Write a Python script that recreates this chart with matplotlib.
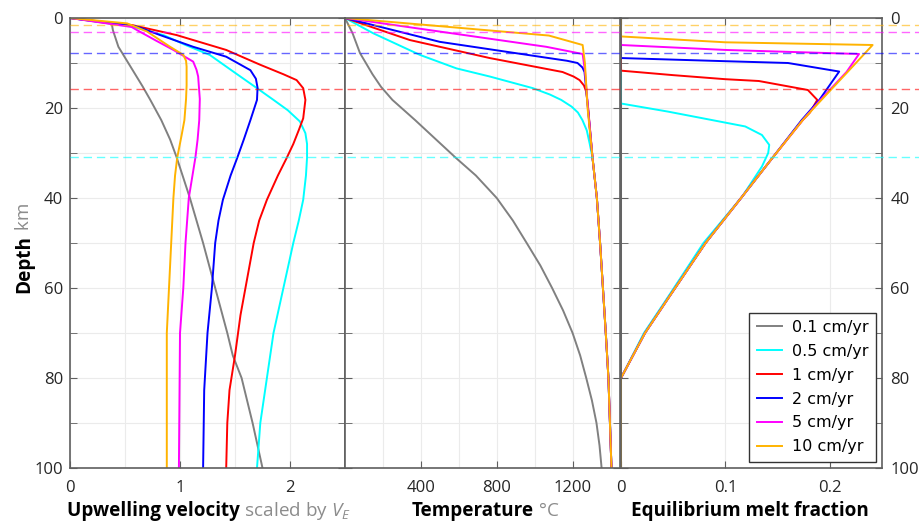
import matplotlib
matplotlib.use('Agg')
import matplotlib.pyplot as plt
import matplotlib.transforms as mtransforms
from matplotlib.lines import Line2D

plt.rcParams['font.family'] = ['Open Sans', 'DejaVu Sans']
plt.rcParams['mathtext.fontset'] = 'custom'
plt.rcParams['mathtext.it'] = 'Open Sans:italic'
plt.rcParams['mathtext.rm'] = 'Open Sans'

# series names / colours
rates = ['0.1 cm/yr', '0.5 cm/yr', '1 cm/yr', '2 cm/yr', '5 cm/yr', '10 cm/yr']
colors = ['#808080', '#00ffff', '#ff0000', '#0000ff', '#ff00ff', '#ffb300']

# upwelling velocity (scaled by V_E) against depth (km)
vel_d_01 = [0, 1.3, 2.7, 6.4, 10.8, 15.2, 18.2, 22.7, 27, 31, 40, 50, 60, 70, 75, 80, 90, 100]
vel_v_01 = [0, 0.38, 0.39, 0.44, 0.55, 0.66, 0.73, 0.83, 0.91, 0.97, 1.09, 1.21, 1.32, 1.43, 1.48, 1.56, 1.66, 1.75]
vel_d_05 = [0, 1.5, 3.8, 6, 8.2, 12, 15.6, 18.2, 20.5, 23, 25.6, 28, 31, 35, 40.4, 45, 50, 60, 70, 80, 90, 100]
vel_v_05 = [0, 0.5, 0.85, 1.05, 1.27, 1.49, 1.70, 1.85, 1.98, 2.09, 2.14, 2.155, 2.155, 2.145, 2.12, 2.08, 2.03, 1.94, 1.85, 1.79, 1.73, 1.70]
vel_d_1 = [0, 1.6, 3.8, 7.1, 10.4, 12.5, 13.8, 15.6, 18.2, 22.3, 24.9, 28, 31.1, 35, 40.4, 45, 50, 58, 66, 75, 82.7, 90, 100]
vel_v_1 = [0, 0.57, 0.97, 1.42, 1.73, 1.94, 2.06, 2.12, 2.14, 2.12, 2.08, 2.03, 1.97, 1.89, 1.79, 1.72, 1.67, 1.61, 1.55, 1.50, 1.45, 1.43, 1.42]
vel_d_2 = [0, 1.9, 3.8, 6.4, 8.6, 11.6, 13.5, 15.5, 18.2, 22.7, 27, 31.1, 35, 40.4, 45, 50, 60, 70, 82.7, 100]
vel_v_2 = [0, 0.61, 0.82, 1.12, 1.42, 1.64, 1.69, 1.705, 1.70, 1.64, 1.58, 1.52, 1.46, 1.39, 1.35, 1.32, 1.29, 1.25, 1.22, 1.21]
vel_d_5 = [0, 2, 2.7, 5, 7.1, 9.7, 11.5, 13, 18, 22.7, 27, 31, 40, 50, 60, 70, 100]
vel_v_5 = [0, 0.56, 0.61, 0.78, 0.94, 1.12, 1.15, 1.165, 1.18, 1.175, 1.16, 1.14, 1.08, 1.05, 1.03, 1.00, 0.99]
vel_d_10 = [0, 1.2, 3, 6.4, 8.2, 9.5, 10.8, 15, 18, 22.7, 26, 31, 35, 40, 50, 60, 70, 100]
vel_v_10 = [0, 0.52, 0.70, 0.91, 1.03, 1.055, 1.06, 1.06, 1.055, 1.04, 1.015, 0.975, 0.955, 0.94, 0.92, 0.90, 0.88, 0.88]

# temperature (deg C) against depth (km)
tem_d_01 = [0, 3.4, 7.8, 10, 12.5, 15.3, 18.2, 22.7, 27, 31.1, 35, 40, 45, 50, 55, 60, 65, 70, 75, 80, 85, 90, 95, 100]
tem_t_01 = [0, 40, 79, 110, 145, 190, 250, 370, 480, 585, 690, 800, 885, 958, 1030, 1092, 1150, 1200, 1240, 1272, 1302, 1326, 1342, 1353]
tem_d_05 = [0, 3.4, 8.2, 11.2, 13, 15.6, 17, 18.2, 19.7, 21, 22.7, 25, 27.9, 31, 40, 50, 60, 70, 80, 90, 100]
tem_t_05 = [0, 149, 395, 588, 763, 991, 1080, 1140, 1195, 1228, 1252, 1275, 1290, 1305, 1328, 1345, 1360, 1375, 1389, 1397, 1405]
tem_d_1 = [0, 4.9, 8.9, 12, 13, 13.8, 15, 16.4, 20, 31, 40, 50, 60, 70, 80, 90, 100]
tem_t_1 = [0, 342, 763, 1147, 1205, 1237, 1260, 1272, 1282, 1305, 1328, 1345, 1360, 1375, 1389, 1397, 1405]
tem_d_2 = [0, 5.3, 8.6, 9.5, 10, 11, 12, 20, 31, 40, 50, 60, 70, 80, 90, 100]
tem_t_2 = [0, 500, 1026, 1170, 1226, 1252, 1263, 1281, 1305, 1328, 1345, 1360, 1375, 1389, 1397, 1405]
tem_d_5 = [0, 6.4, 8, 12, 20, 31, 40, 50, 60, 70, 80, 90, 100]
tem_t_5 = [0, 1061, 1253, 1266, 1281, 1305, 1328, 1345, 1360, 1375, 1389, 1397, 1405]
tem_d_10 = [0, 3.9, 6, 10, 20, 31, 40, 50, 60, 70, 80, 90, 100]
tem_t_10 = [0, 1075, 1253, 1265, 1279, 1305, 1328, 1345, 1360, 1375, 1389, 1397, 1405]

# equilibrium melt fraction against depth (km)
mel_d_01 = [0, 100]
mel_f_01 = [0, 0]
mel_d_05 = [0, 19, 20.8, 24.1, 26, 28.2, 30, 33, 39.7, 50, 62.7, 70, 80, 100]
mel_f_05 = [0, 0, 0.045, 0.119, 0.135, 0.142, 0.141, 0.135, 0.116, 0.079, 0.043, 0.022, 0, 0]
mel_d_1 = [0, 11.7, 12.7, 13.6, 14, 16, 18.2, 21, 22.7, 31.1, 40, 50, 62.7, 70, 80, 100]
mel_f_1 = [0, 0, 0.05, 0.10, 0.132, 0.179, 0.188, 0.181, 0.174, 0.145, 0.115, 0.081, 0.044, 0.023, 0, 0]
mel_d_2 = [0, 8.9, 9.6, 10, 11.9, 18.2, 22.7, 31.1, 40, 50, 62.7, 70, 80, 100]
mel_f_2 = [0, 0, 0.10, 0.16, 0.209, 0.190, 0.173, 0.145, 0.115, 0.081, 0.044, 0.023, 0, 0]
mel_d_5 = [0, 6, 7.1, 8, 12, 18.2, 22.7, 31.1, 40, 50, 62.7, 70, 80, 100]
mel_f_5 = [0, 0, 0.10, 0.228, 0.216, 0.191, 0.174, 0.145, 0.115, 0.081, 0.044, 0.023, 0, 0]
mel_d_10 = [0, 4.1, 5.4, 6, 8, 12, 18.2, 22.7, 31.1, 40, 50, 62.7, 70, 80, 100]
mel_f_10 = [0, 0, 0.10, 0.241, 0.233, 0.217, 0.192, 0.174, 0.145, 0.115, 0.081, 0.044, 0.023, 0, 0]

# dashed reference depths (km) for 0.5 ... 10 cm/yr
ref_depth = [30.9, 15.85, 7.85, 3.1, 1.5]
ref_colors = colors[1:]

vel = [(vel_v_01, vel_d_01), (vel_v_05, vel_d_05), (vel_v_1, vel_d_1),
       (vel_v_2, vel_d_2), (vel_v_5, vel_d_5), (vel_v_10, vel_d_10)]
tem = [(tem_t_01, tem_d_01), (tem_t_05, tem_d_05), (tem_t_1, tem_d_1),
       (tem_t_2, tem_d_2), (tem_t_5, tem_d_5), (tem_t_10, tem_d_10)]
mel = [(mel_f_01, mel_d_01), (mel_f_05, mel_d_05), (mel_f_1, mel_d_1),
       (mel_f_2, mel_d_2), (mel_f_5, mel_d_5), (mel_f_10, mel_d_10)]

W, H = 920, 522
fig = plt.figure(figsize=(W / 100, H / 100), dpi=100)
bot, hgt = 54 / H, 450 / H
ax1 = fig.add_axes([70 / W, bot, 275 / W, hgt])
ax2 = fig.add_axes([345 / W, bot, 275 / W, hgt])
ax3 = fig.add_axes([621 / W, bot, 261 / W, hgt])

for ax, data in ((ax1, vel), (ax2, tem), (ax3, mel)):
    for (x, d), c, lab in zip(data, colors, rates):
        ax.plot(x, d, color=c, lw=1.4, label=lab)
    ax.set_ylim(100, 0)
    ax.set_yticks([0, 20, 40, 60, 80, 100])
    ax.set_yticks([10, 30, 50, 70, 90], minor=True)
    ax.grid(True, which='both', color='#ebebeb', lw=0.8)
    ax.set_axisbelow(True)
    for s in ax.spines.values():
        s.set_color('#5f5f5f')
        s.set_linewidth(1.2)
    ax.tick_params(which='both', direction='in', top=True, right=True,
                   color='#5f5f5f', labelsize=12, labelcolor='#262626')
    ax.tick_params(axis='x', which='major', length=5, pad=9)
    ax.tick_params(axis='x', which='minor', length=0)
    ax.tick_params(axis='y', which='both', length=5)

ax1.set_xlim(0, 2.5)
ax1.set_xticks([0, 1, 2])
ax1.set_xticks([0.5, 1.5, 2.5], minor=True)
ax1.tick_params(axis='y', labelleft=True, pad=5)

ax2.set_xlim(0, 1450)
ax2.set_xticks([400, 800, 1200])
ax2.set_xticks([200, 600, 1000, 1400], minor=True)
ax2.tick_params(axis='y', labelleft=False)

ax3.set_xlim(0, 0.25)
ax3.set_xticks([0, 0.1, 0.2])
ax3.set_xticklabels(['0', '0.1', '0.2'])
ax3.tick_params(axis='y', labelleft=False, labelright=True, pad=6)

leg = ax3.legend(loc='lower right', prop={'family': 'DejaVu Sans', 'size': 11.5},
                 fancybox=False, framealpha=1, edgecolor='#333333',
                 handlelength=1.6, handletextpad=0.6, labelspacing=0.56,
                 borderaxespad=0.4, borderpad=0.45)
leg.get_frame().set_linewidth(1.0)

# dashed depth markers running across the whole figure
tr = mtransforms.blended_transform_factory(fig.transFigure, ax1.transData)
for d, c in zip(ref_depth, ref_colors):
    fig.add_artist(Line2D([70 / W, 1.0], [d, d], transform=tr, color=c,
                          lw=1.0, alpha=0.6, dashes=(6, 3.5)))

# two-tone axis labels (bold name + grey unit)
renderer = fig.canvas.get_renderer()


def two_tone(cx, cy, bold, light, rot=0):
    kw = dict(fontsize=13.6, rotation=rot, rotation_mode='anchor',
              ha='left', va='baseline')
    t1 = fig.text(0, 0, bold, fontweight='bold', color='black', **kw)
    t2 = fig.text(0, 0, light, color='#8c8c8c', **kw)
    e1 = t1.get_window_extent(renderer)
    e2 = t2.get_window_extent(renderer)
    if rot == 0:
        x0 = cx - (e1.width + e2.width) / 2
        t1.set_position((x0 / W, cy / H))
        t2.set_position(((x0 + e1.width) / W, cy / H))
    else:
        y0 = cy - (e1.height + e2.height) / 2
        t1.set_position((cx / W, y0 / H))
        t2.set_position((cx / W, (y0 + e1.height) / H))


two_tone(208.5, 6, 'Upwelling velocity', ' scaled by $V_E$')
two_tone(485, 6, 'Temperature', ' \u00b0C')
two_tone(750, 6, 'Equilibrium melt fraction', '')
two_tone(29, H - 247.5, 'Depth', ' km', rot=90)

fig.savefig('out.png', dpi=100)
